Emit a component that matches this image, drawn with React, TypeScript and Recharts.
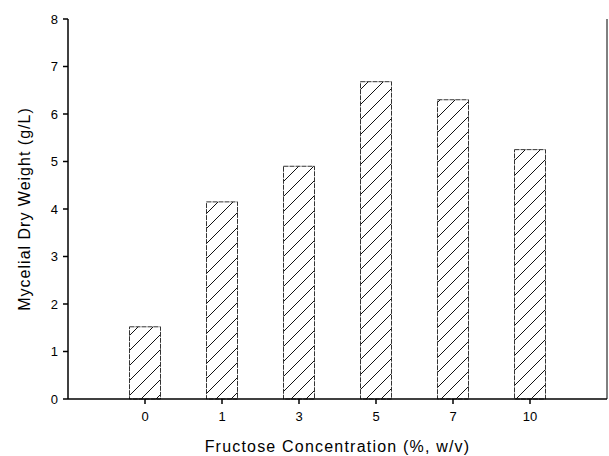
import React from "react";
import { BarChart, Bar, XAxis, YAxis } from "recharts";

const categories = ["0", "1", "3", "5", "7", "10"];
const dryWeight = [1.52, 4.15, 4.9, 6.68, 6.3, 5.25];
const yTicks = [0, 1, 2, 3, 4, 5, 6, 7, 8];

const data = categories.map((c, i) => ({ conc: c, value: dryWeight[i] }));

const font = "'Liberation Sans', Arial, sans-serif";

export default function App() {
  return (
    <div style={{ position: "absolute", left: 0, top: 0, width: 609, height: 456, background: "#fff" }}>
      <BarChart
        width={609}
        height={456}
        data={data}
        margin={{ top: 19, right: 1, left: 0, bottom: 0 }}
      >
        <defs>
          <pattern id="hatch" patternUnits="userSpaceOnUse" width="15" height="15">
            <line x1="-2" y1="17" x2="17" y2="-2" stroke="#111" strokeWidth="1" />
          </pattern>
        </defs>
        <XAxis
          dataKey="conc"
          padding={{ left: 38.5, right: 38.5 }}
          height={57}
          tickSize={5}
          tickMargin={8}
          stroke="#000"
          strokeWidth={1.5}
          tick={{ fill: "#000", fontSize: 13, fontFamily: font }}
          label={{ value: "Fructose Concentration (%, w/v)", position: "insideBottom", offset: 4, fill: "#000", fontSize: 16, fontFamily: font, letterSpacing: 1.2 }}
        />
        <XAxis xAxisId="top" orientation="top" height={0} tick={false} tickLine={false} stroke="#000" dataKey="conc" />
        <YAxis
          domain={[0, 8]}
          ticks={yTicks}
          width={68}
          tickSize={5}
          tickMargin={5}
          stroke="#000"
          strokeWidth={1.5}
          interval={0}
          tick={{ fill: "#000", fontSize: 13, fontFamily: font }}
          label={{ value: "Mycelial Dry Weight (g/L)", angle: -90, position: "insideLeft", offset: 24, style: { textAnchor: "middle", letterSpacing: 1 }, fill: "#000", fontSize: 16, fontFamily: font }}
        />
        <YAxis yAxisId="right" orientation="right" width={1} tick={false} tickLine={false} stroke="#000" domain={[0, 8]} />
        <Bar
          dataKey="value"
          barSize={31}
          fill="url(#hatch)"
          stroke="#333"
          strokeWidth={1}
          strokeDasharray="5 1"
          isAnimationActive={false}
        />
      </BarChart>
    </div>
  );
}
